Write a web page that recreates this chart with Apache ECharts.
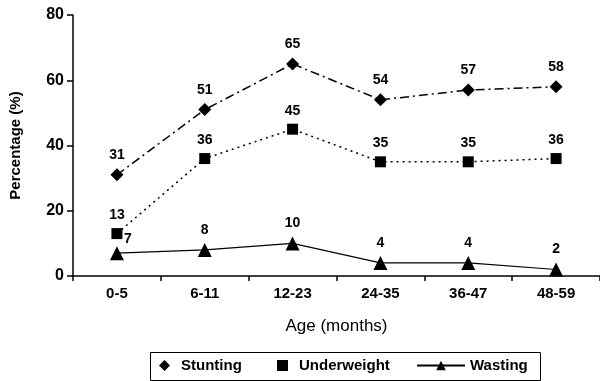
<!DOCTYPE html>
<html><head><meta charset="utf-8">
<script src="https://cdn.jsdelivr.net/npm/echarts@6/dist/echarts.min.js"></script>
<style>html,body{margin:0;padding:0;background:#fff}#c{width:600px;height:381px}</style>
</head><body><div id="c"></div>
<script>
const categories = ['0-5','6-11','12-23','24-35','36-47','48-59'];
const stunting = [31,51,65,54,57,58];
const underweight = [13,36,45,35,35,36];
const wasting = [7,8,10,4,4,2];
const yTicks = [0,20,40,60,80];

const F = 'Liberation Sans, Arial, sans-serif';
const chart = echarts.init(document.getElementById('c'), null, {renderer:'canvas'});
const lbl = {show:true, position:'top', color:'#000', fontFamily:F, fontWeight:'bold', fontSize:14, distance:6};
const legText = {color:'#000', fontFamily:F, fontSize:15, fontWeight:'bold', padding:[0,0,0,6]};
chart.setOption({
  animation:false,
  backgroundColor:'#fff',
  grid:{left:71, right:0, top:15, bottom:105},
  graphic:[{type:'rect', shape:{x:150.5, y:352.5, width:390, height:28}, style:{fill:'none', stroke:'#000', lineWidth:1}}],
  xAxis:{type:'category', data:categories, boundaryGap:true,
    name:'Age (months)', nameLocation:'middle', nameGap:42,
    nameTextStyle:{color:'#000', fontFamily:F, fontSize:17},
    axisLine:{lineStyle:{color:'#000', width:1.5}},
    axisTick:{show:true, length:5, inside:false, lineStyle:{color:'#000', width:1.5}},
    axisLabel:{color:'#000', fontFamily:F, fontWeight:'bold', fontSize:15, margin:10}},
  yAxis:{type:'value', min:yTicks[0], max:yTicks[yTicks.length-1], interval:20,
    name:'Percentage (%)', nameLocation:'middle', nameGap:50,
    nameTextStyle:{color:'#000', fontFamily:F, fontSize:15, fontWeight:'bold'},
    axisLine:{show:true, lineStyle:{color:'#000', width:1.5}},
    axisTick:{show:true, length:6, lineStyle:{color:'#000', width:1.5}},
    splitLine:{show:false},
    axisLabel:{color:'#000', fontFamily:F, fontWeight:'bold', fontSize:16, margin:9}},
  legend:[
    {left:159, top:358, padding:0, itemWidth:11, itemHeight:11,
     textStyle:legText, data:[{name:'Stunting', icon:'diamond'}]},
    {left:277, top:358, padding:0, itemWidth:11, itemHeight:11,
     textStyle:legText, data:[{name:'Underweight', icon:'rect'}]},
    {left:416, top:358, padding:0, itemWidth:48, itemHeight:12,
     textStyle:Object.assign({}, legText, {padding:[0,0,0,0]}), data:[{name:'Wasting'}]}
  ],
  series:[
    {name:'Stunting', type:'line', data:stunting, symbol:'diamond', symbolSize:13,
     itemStyle:{color:'#000'}, lineStyle:{color:'#000', width:1.5, type:[9,4,2,4]}, label:lbl},
    {name:'Underweight', type:'line', data:underweight, symbol:'rect', symbolSize:11,
     itemStyle:{color:'#000'}, lineStyle:{color:'#000', width:1.5, type:[2,4]}, label:lbl},
    {name:'Wasting', type:'line', data:wasting.map((v,i)=> i===0 ? {value:v, label:{position:'right', offset:[-6,-14]}} : v),
     symbol:'triangle', symbolSize:14,
     itemStyle:{color:'#000'}, lineStyle:{color:'#000', width:1.2}, label:lbl}
  ]
});
</script></body></html>
